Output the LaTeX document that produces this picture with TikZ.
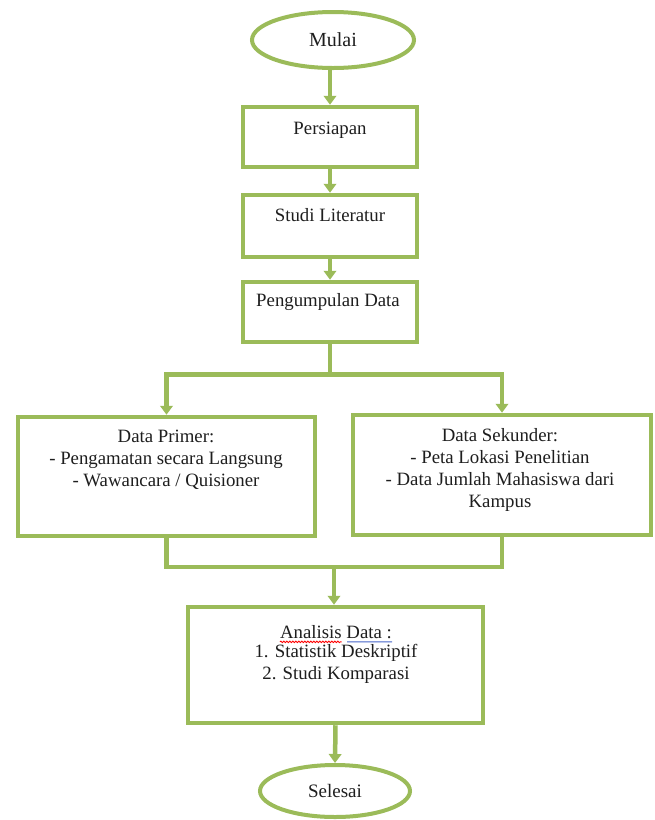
\documentclass[tikz,border=0pt]{standalone}
\usepackage{fontspec}
\setmainfont{Liberation Serif}
\usetikzlibrary{arrows.meta,shapes.geometric,decorations.pathmorphing,calc}
\definecolor{leaf}{RGB}{155,187,89}
\definecolor{gramblue}{RGB}{70,100,200}
\definecolor{ink}{RGB}{30,30,30}
\begin{document}
\begin{tikzpicture}[x=1pt,y=-1pt,
 box/.style={draw=leaf,line width=4.5pt,fill=white,inner sep=0pt},
 term/.style={ellipse,draw=leaf,line width=4pt,fill=white,inner sep=0pt,text=ink,font=\fontsize{20}{24}\selectfont},
 txt/.style={font=\fontsize{18.8}{22}\selectfont,text=ink,align=center,inner sep=0pt},
 flow/.style={draw=leaf,line width=4.5pt},
 arr/.style={flow,-{Triangle[width=12.5pt,length=9pt]}}]
\fill[white] (0,0) rectangle (655,820);
\useasboundingbox (0,0) rectangle (655,820);

\node[term,minimum width=162,minimum height=56] (mulai) at (333,40) {Mulai};
\node[box,minimum width=174,minimum height=60] (persiapan) at (330,137) {};
\node[txt] (tpersiapan) at (330,130) {Persiapan};
\node[box,minimum width=174,minimum height=62] (studi) at (330,226) {};
\node[txt] (tstudi) at (330,215) {Studi Literatur};
\node[box,minimum width=174,minimum height=60] (kumpul) at (330,312) {};
\node[txt] (tkumpul) at (328,302) {Pengumpulan Data};
\node[box,minimum width=297,minimum height=119] (primer) at (166.5,476.5) {};
\node[txt] (tprimer) at (166,460) {Data Primer:\\- Pengamatan secara Langsung\\- Wawancara / Quisioner};
\node[box,minimum width=298,minimum height=120] (sekunder) at (502,475) {};
\node[txt] (tsekunder) at (500,470) {Data Sekunder:\\- Peta Lokasi Penelitian\\- Data Jumlah Mahasiswa dari\\Kampus};
\node[box,minimum width=295,minimum height=116] (analisis) at (335.5,665) {};
\node[txt] (tan1) at (336,632) {Analisis Data :};
\node[txt] (tan2) at (336,664) {1. Statistik Deskriptif\\2. Studi Komparasi};
\node[term,minimum width=150,minimum height=52,font=\fontsize{19}{23}\selectfont] (selesai) at (335,791) {Selesai};

\draw[arr] (persiapan.north |- mulai.south) -- (persiapan.north);
\draw[arr] (persiapan) -- (studi);
\draw[arr] (studi) -- (kumpul);
\coordinate (split) at ($(kumpul.south)+(0,30)$);
\draw[flow] (kumpul.south) -- (split);
\draw[arr] (split) -| (primer.north);
\draw[arr] (split) -| (sekunder.north);
\coordinate (merge) at (334,567);
\draw[flow] (primer.south) |- (merge);
\draw[flow] (sekunder.south) |- (merge);
\draw[arr] (merge) -- (merge |- analisis.north);
\draw[arr] (analisis.south) -- (selesai.north);

\draw[red,line width=0.8pt,decorate,decoration={snake,amplitude=0.8pt,segment length=3pt}]
  ($(tan1.south west)+(0,3)$) -- ($(tan1.south west)!0.55!(tan1.south east)+(0,3)$);
\draw[gramblue,line width=0.8pt]
  ($(tan1.south west)!0.6!(tan1.south east)+(0,3)$) -- ($(tan1.south east)+(0,3)$);
\end{tikzpicture}
\end{document}
